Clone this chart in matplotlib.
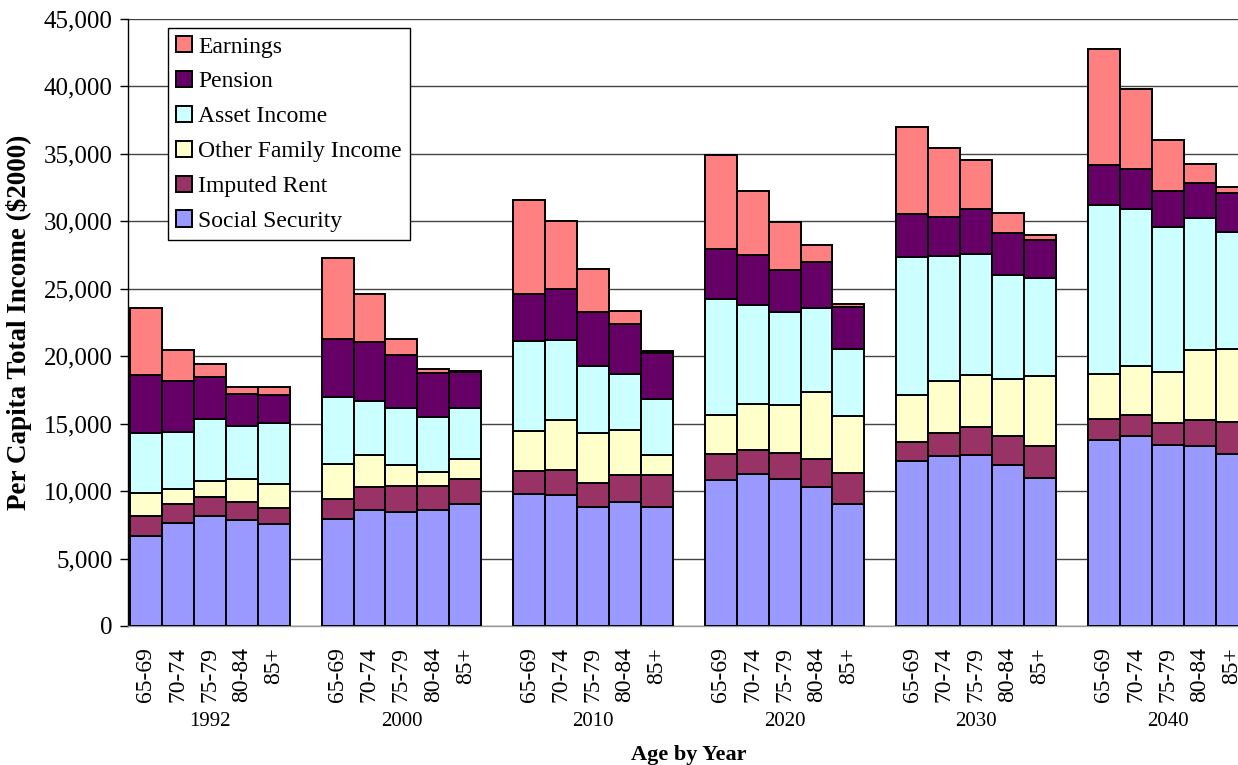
import matplotlib
matplotlib.use("Agg")
import matplotlib.pyplot as plt
from matplotlib.ticker import FuncFormatter
import numpy as np

years = ["1992", "2000", "2010", "2020", "2030", "2040"]
ages = ["65-69", "70-74", "75-79", "80-84", "85+"]

social_security = [6690, 7610, 8150, 7860, 7590,
                   7930, 8570, 8450, 8570, 9020,
                   9790, 9690, 8820, 9190, 8820,
                   10850, 11240, 10870, 10300, 9040,
                   12260, 12600, 12680, 11910, 11000,
                   13790, 14060, 13440, 13340, 12750]
imputed_rent = [1440, 1410, 1440, 1310, 1130,
                1510, 1710, 1900, 1830, 1880,
                1700, 1850, 1810, 2030, 2350,
                1930, 1830, 1980, 2110, 2280,
                1400, 1680, 2050, 2180, 2370,
                1560, 1610, 1580, 1910, 2350]
other_family = [1710, 1110, 1160, 1750, 1810,
                2570, 2420, 1610, 1040, 1510,
                2940, 3730, 3700, 3310, 1530,
                2890, 3390, 3530, 4910, 4220,
                3460, 3880, 3850, 4200, 5160,
                3310, 3630, 3780, 5210, 5460]
asset_income = [4490, 4230, 4570, 3930, 4540,
                4990, 3980, 4180, 4030, 3780,
                6670, 5910, 4970, 4130, 4150,
                8570, 7360, 6870, 6250, 5020,
                10260, 9270, 8970, 7730, 7290,
                12570, 11590, 10780, 9790, 8650]
pension = [4280, 3830, 3160, 2320, 2080,
           4250, 4370, 3950, 3260, 2640,
           3490, 3830, 3980, 3730, 3390,
           3680, 3680, 3170, 3390, 3110,
           3190, 2920, 3340, 3140, 2820,
           2970, 3010, 2690, 2560, 2860]
earnings = [4940, 2270, 970, 570, 570,
            6060, 3590, 1190, 300, 60,
            6990, 5010, 3160, 990, 120,
            7000, 4770, 3500, 1280, 230,
            6450, 5080, 3680, 1430, 350,
            8550, 5880, 3780, 1410, 470]

series = [
    ("Social Security", social_security, "#9999FF"),
    ("Imputed Rent", imputed_rent, "#993366"),
    ("Other Family Income", other_family, "#FFFFCC"),
    ("Asset Income", asset_income, "#CCFFFF"),
    ("Pension", pension, "#660066"),
    ("Earnings", earnings, "#FF8080"),
]

plt.rcParams['font.family'] = ['Liberation Serif', 'DejaVu Serif']

W, H = 1238, 765
fig = plt.figure(figsize=(W / 100, H / 100), dpi=100)
px = 31.93
ax_left, ax_right = 128, 128 + 35.125 * px
ax_top, ax_bot = 19, 626
ax = fig.add_axes([ax_left / W, 1 - ax_bot / H, (ax_right - ax_left) / W, (ax_bot - ax_top) / H])

xpos = []
labels = []
for g in range(len(years)):
    for i in range(len(ages)):
        xpos.append(g * 6 + i)
        labels.append(ages[i])
xpos = np.array(xpos, dtype=float)

bottom = np.zeros(len(xpos))
handles = []
for name, vals, col in series:
    v = np.array(vals, dtype=float)
    b = ax.bar(xpos, v, width=1.0, bottom=bottom, color=col, edgecolor="black",
               linewidth=1.4, label=name, zorder=3)
    handles.append(b)
    bottom += v

ax.set_xlim(-0.5 - 2 / px, 34.5 + 2 / px)
ax.set_ylim(0, 45000)
ax.set_yticks(np.arange(0, 45001, 5000))
ax.yaxis.set_major_formatter(FuncFormatter(lambda v, p: f"{int(v):,}"))
ax.tick_params(axis="y", labelsize=18, length=6, width=1, direction="out", pad=5)
ax.grid(axis="y", color="#444444", linewidth=1.0, zorder=0)
ax.set_axisbelow(True)

ax.set_xticks(xpos)
ax.set_xticklabels(labels, rotation=90, fontsize=17, va="top", ha="center")
ax.tick_params(axis="x", length=0, pad=15)

for s in ["top", "right"]:
    ax.spines[s].set_visible(False)
ax.spines["left"].set_color("black")
ax.spines["left"].set_linewidth(1.0)
ax.spines["bottom"].set_color("#999999")
ax.spines["bottom"].set_linewidth(1.0)

xt = ax.get_xaxis_transform()
for g, yr in enumerate(years):
    ax.text(g * 6 + 2, (626 - 722) / 607, yr, transform=xt, ha="center", va="center", fontsize=15)

ax.text(0.5, (626 - 755) / 607, "Age by Year", transform=ax.transAxes, ha="center",
        va="center", fontsize=16, fontweight="bold")
fig.text(19 / W, 1 - 322 / H, "Per Capita Total Income ($2000)", rotation=90,
         ha="center", va="center", fontsize=19.5, fontweight="bold")

leg = ax.legend(handles[::-1], [s[0] for s in series][::-1],
                loc="upper left",
                bbox_to_anchor=((168 - ax_left) / (ax_right - ax_left), (626 - 28) / 607),
                borderaxespad=0, fontsize=17, frameon=True, fancybox=False,
                edgecolor="black", framealpha=1, handlelength=0.68, handleheight=0.68,
                handletextpad=0.25, labelspacing=0.57, borderpad=0.35)
leg.get_frame().set_linewidth(1.0)
leg.set_zorder(5)

fig.savefig("out.png", dpi=100)
